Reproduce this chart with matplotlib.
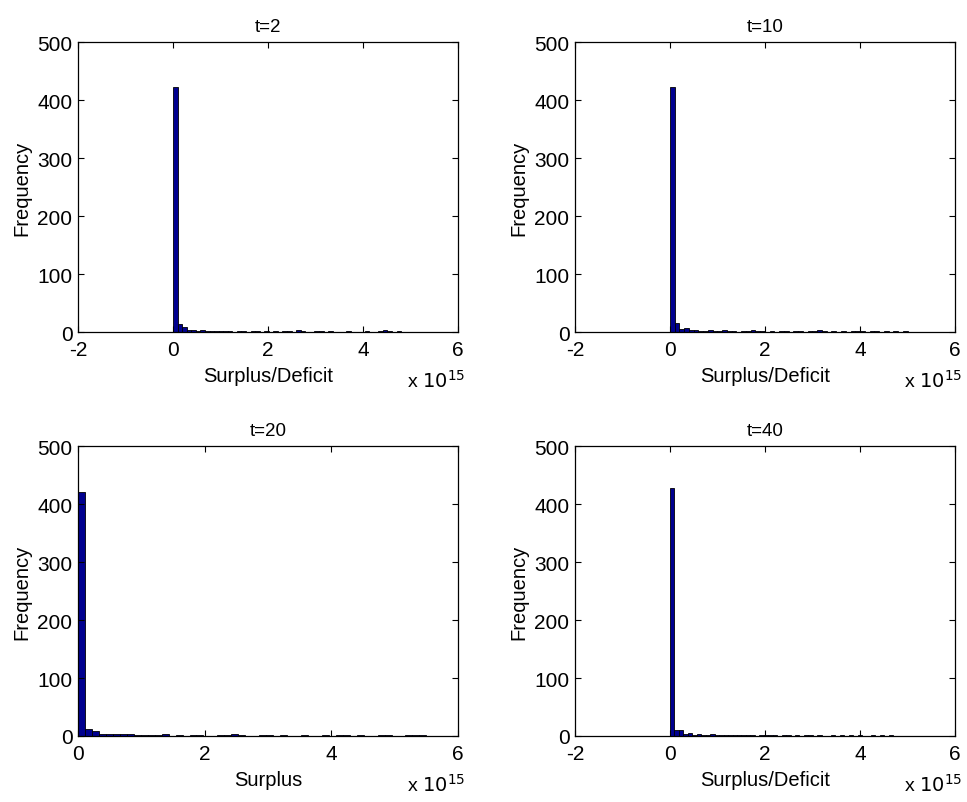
import numpy as np
import matplotlib
matplotlib.use("Agg")
import matplotlib.pyplot as plt

plt.rcParams["font.family"] = ["Liberation Sans", "DejaVu Sans"]
plt.rcParams["axes.unicode_minus"] = False

# Histogram counts (50 bins each)
titles = ["t=2", "t=10", "t=20", "t=40"]
xlabels = ["Surplus/Deficit", "Surplus/Deficit", "Surplus", "Surplus/Deficit"]
data_max = [4.8, 5.0, 5.5, 4.7]   # upper end of data range, x 1e15
xlims = [(-2, 6), (-2, 6), (0, 6), (-2, 6)]

counts_t2 = [423, 14, 8, 4, 4, 2, 3, 1, 2, 2, 1, 1, 1, 0, 1, 1, 0, 2, 1, 0,
             1, 0, 1, 0, 1, 1, 0, 3, 1, 0, 0, 1, 1, 0, 1, 0, 0, 0, 1, 0,
             0, 0, 1, 0, 0, 1, 3, 1, 0, 1]
counts_t10 = [423, 16, 6, 7, 3, 4, 2, 1, 3, 2, 1, 3, 1, 1, 0, 1, 2, 3, 2, 1,
              0, 1, 0, 1, 1, 0, 2, 1, 0, 1, 2, 3, 1, 0, 1, 0, 1, 0, 2, 1,
              1, 0, 1, 1, 0, 1, 0, 1, 0, 1]
counts_t20 = [421, 12, 8, 4, 4, 3, 3, 4, 2, 1, 2, 1, 3, 0, 1, 0, 1, 1, 0, 0,
              2, 1, 3, 1, 0, 0, 1, 1, 0, 1, 0, 0, 1, 0, 0, 1, 0, 1, 2, 0,
              1, 0, 0, 1, 1, 0, 0, 1, 2, 1]
counts_t40 = [427, 10, 10, 3, 6, 2, 3, 1, 2, 4, 1, 1, 1, 2, 1, 1, 2, 1, 1, 0,
              1, 1, 2, 1, 0, 1, 1, 0, 1, 0, 1, 1, 0, 1, 0, 0, 1, 0, 1, 0,
              1, 0, 1, 0, 0, 1, 0, 1, 0, 1]
all_counts = [counts_t2, counts_t10, counts_t20, counts_t40]

fig = plt.figure(figsize=(9.67, 8.03), dpi=100)

# axes positions [left, bottom, width, height] in figure fractions
positions = [
    [0.0807, 0.5853, 0.393, 0.3611],
    [0.5946, 0.5853, 0.393, 0.3611],
    [0.0807, 0.0822, 0.393, 0.3611],
    [0.5946, 0.0822, 0.393, 0.3611],
]

for i in range(4):
    ax = fig.add_axes(positions[i])
    counts = all_counts[i]
    edges = np.linspace(0, data_max[i], len(counts) + 1)
    ax.bar(edges[:-1], counts, width=np.diff(edges), align="edge",
           color="#00008f", edgecolor="black", linewidth=0.6)
    ax.set_xlim(*xlims[i])
    ax.set_ylim(0, 500)
    ax.set_xticks(range(xlims[i][0], 7, 2))
    ax.set_yticks(range(0, 501, 100))
    ax.tick_params(direction="in", top=True, right=True, length=4,
                   width=0.8, labelsize=15)
    ax.tick_params(axis="x", pad=6)
    ax.tick_params(axis="y", pad=4)
    for s in ax.spines.values():
        s.set_linewidth(0.9)
    ax.set_title(titles[i], fontsize=13.5, pad=8)
    ax.set_xlabel(xlabels[i], fontsize=14.5, labelpad=5)
    ax.set_ylabel("Frequency", fontsize=14.5, labelpad=4)
    ax.text(1.02, -0.165, r"x $10^{15}$", transform=ax.transAxes,
            ha="right", va="center", fontsize=14)

plt.savefig("out.png", dpi=100)
